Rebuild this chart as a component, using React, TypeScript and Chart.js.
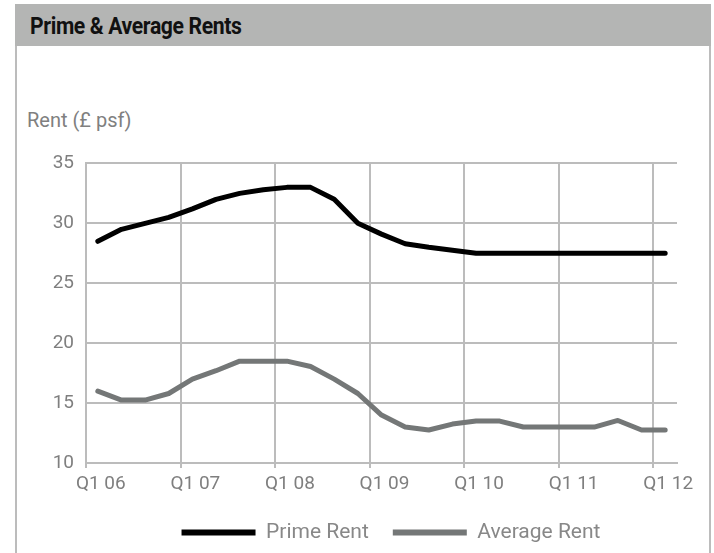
import React, { useEffect, useRef } from "react";
import { Chart, registerables } from "chart.js";

Chart.register(...registerables);

const quarters: string[] = [
  "Q1 06", "Q2 06", "Q3 06", "Q4 06",
  "Q1 07", "Q2 07", "Q3 07", "Q4 07",
  "Q1 08", "Q2 08", "Q3 08", "Q4 08",
  "Q1 09", "Q2 09", "Q3 09", "Q4 09",
  "Q1 10", "Q2 10", "Q3 10", "Q4 10",
  "Q1 11", "Q2 11", "Q3 11", "Q4 11",
  "Q1 12",
];

const primeRent: number[] = [
  28.5, 29.5, 30.0, 30.5, 31.2, 32.0, 32.5, 32.8, 33.0, 33.0, 32.0, 30.0,
  29.1, 28.3, 28.0, 27.75, 27.5, 27.5, 27.5, 27.5, 27.5, 27.5, 27.5, 27.5, 27.5,
];

const averageRent: number[] = [
  16.0, 15.25, 15.25, 15.8, 17.0, 17.7, 18.5, 18.5, 18.5, 18.05, 17.0, 15.8,
  14.0, 13.0, 12.75, 13.25, 13.5, 13.5, 13.0, 13.0, 13.0, 13.0, 13.55, 12.75, 12.75,
];

const yTicks: number[] = [10, 15, 20, 25, 30, 35];

const GRID = "#bcbcbc";
const TEXT = "#7f7f7f";
const FONT = "Roboto, 'DejaVu Sans', sans-serif";

export default function App() {
  const canvasRef = useRef<HTMLCanvasElement | null>(null);

  useEffect(() => {
    if (!canvasRef.current) return;
    const chart = new Chart(canvasRef.current, {
      type: "line",
      data: {
        labels: quarters,
        datasets: [
          {
            label: "Prime Rent",
            data: primeRent,
            borderColor: "#000000",
            backgroundColor: "#000000",
            borderWidth: 5,
            pointRadius: 0,
            tension: 0,
            borderCapStyle: "round",
            borderJoinStyle: "round",
          },
          {
            label: "Average Rent",
            data: averageRent,
            borderColor: "#747777",
            backgroundColor: "#747777",
            borderWidth: 5,
            pointRadius: 0,
            tension: 0,
            borderCapStyle: "round",
            borderJoinStyle: "round",
          },
        ],
      },
      options: {
        responsive: false,
        animation: false,
        devicePixelRatio: 1,
        layout: { padding: { left: 0, right: 0, top: 16, bottom: 0 } },
        plugins: {
          tooltip: { enabled: false },
          title: { display: false },
          legend: {
            display: true,
            position: "bottom",
            labels: {
              boxWidth: 74,
              boxHeight: 6,
              padding: 24,
              color: "#888888",
              font: { family: FONT, size: 21 },
              generateLabels: (ch: any) =>
                ch.data.datasets.map((ds: any, i: number) => ({
                  text: ds.label,
                  fillStyle: ds.borderColor,
                  strokeStyle: ds.borderColor,
                  lineWidth: 0,
                  hidden: false,
                  datasetIndex: i,
                  fontColor: "#888888",
                })),
            },
          },
        },
        scales: {
          x: {
            type: "category",
            offset: true,
            grid: {
              offset: true,
              lineWidth: 2,
              tickLength: 5,
              color: (ctx: any) =>
                ctx.index % 4 === 0 || ctx.index === quarters.length ? GRID : "rgba(0,0,0,0)",
            },
            border: { display: true, color: GRID, width: 2 },
            ticks: {
              autoSkip: false,
              maxRotation: 0,
              minRotation: 0,
              padding: 5,
              labelOffset: 3,
              color: TEXT,
              font: { family: FONT, size: 19 },
              callback: (_v: any, i: number) => (i % 4 === 0 ? quarters[i] : ""),
            },
            afterFit: (s: any) => {
              s.height = 35;
            },
          },
          y: {
            type: "linear",
            min: yTicks[0],
            max: yTicks[yTicks.length - 1],
            afterBuildTicks: (s: any) => {
              s.ticks = yTicks.map((v) => ({ value: v }));
            },
            grid: { color: GRID, lineWidth: 2, drawTicks: false },
            border: { display: true, color: GRID, width: 2 },
            ticks: {
              padding: 12,
              color: TEXT,
              font: { family: FONT, size: 19 },
            },
            afterFit: (s: any) => {
              s.width = 69;
            },
          },
          spacer: {
            type: "linear",
            position: "right",
            display: true,
            grid: { display: false, drawTicks: false },
            border: { display: false },
            ticks: { display: false },
            afterFit: (s: any) => {
              s.width = 88;
            },
          },
        },
      },
    });
    return () => chart.destroy();
  }, []);

  return (
    <div
      style={{
        position: "absolute",
        left: 0,
        top: 0,
        width: 714,
        height: 553,
        overflow: "hidden",
        background: "#ffffff",
      }}
    >
      <div
        style={{
          position: "absolute",
          left: 15,
          top: 4,
          width: 696,
          height: 42,
          background: "#b4b5b4",
        }}
      />
      <div
        style={{
          position: "absolute",
          left: 30,
          top: 5,
          height: 42,
          lineHeight: "44px",
          fontFamily: "Roboto, sans-serif",
          fontWeight: 700,
          fontSize: 23,
          color: "#111111",
          letterSpacing: "-0.4px",
          whiteSpace: "nowrap",
          transform: "scaleX(0.92)",
          transformOrigin: "left center",
        }}
      >
        Prime &amp; Average Rents
      </div>
      <div
        style={{
          position: "absolute",
          left: 27,
          top: 108,
          fontFamily: FONT,
          fontSize: 20,
          color: "#808080",
          whiteSpace: "nowrap",
        }}
      >
        Rent (£ psf)
      </div>
      <div style={{ position: "absolute", left: 17, top: 140, width: 748, height: 413 }}>
        <canvas
          ref={canvasRef}
          width={748}
          height={413}
          style={{ width: 748, height: 413, display: "block" }}
        />
      </div>
      <div
        style={{
          position: "absolute",
          left: 15,
          top: 46,
          width: 2,
          height: 507,
          background: "#bcbcbc",
        }}
      />
      <div
        style={{
          position: "absolute",
          left: 709,
          top: 46,
          width: 2,
          height: 507,
          background: "#bcbcbc",
        }}
      />
    </div>
  );
}
